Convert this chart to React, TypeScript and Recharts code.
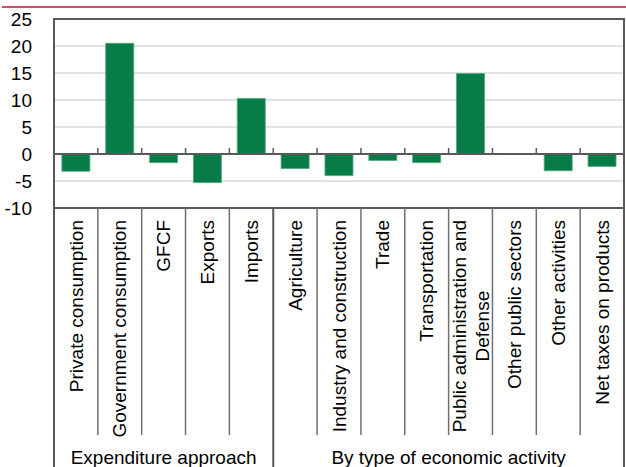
import React from "react";
import {
  BarChart,
  Bar,
  XAxis,
  YAxis,
  CartesianGrid,
  ReferenceLine,
  ReferenceArea,
} from "recharts";

const categories = [
  "Private consumption",
  "Government consumption",
  "GFCF",
  "Exports",
  "Imports",
  "Agriculture",
  "Industry and construction",
  "Trade",
  "Transportation",
  "Public administration and|Defense",
  "Other public sectors",
  "Other activities",
  "Net taxes on products",
];
const values = [-3.2, 20.5, -1.6, -5.3, 10.3, -2.7, -4.0, -1.2, -1.6, 14.9, -0.1, -3.1, -2.3];
const groups = [
  "Expenditure approach",
  "Expenditure approach",
  "Expenditure approach",
  "Expenditure approach",
  "Expenditure approach",
  "By type of economic activity",
  "By type of economic activity",
  "By type of economic activity",
  "By type of economic activity",
  "By type of economic activity",
  "By type of economic activity",
  "By type of economic activity",
  "By type of economic activity",
];
const yTicks = [-10, -5, 0, 5, 10, 15, 20, 25];

const data = categories.map((name, i) => ({ name, value: values[i], group: groups[i] }));

const FONT = "Liberation Sans, Arial, sans-serif";
const LABEL_SIZE = 19;
const AXIS_COLOR = "#595959";
const SEP_COLOR = "#707070";

let ctx: CanvasRenderingContext2D | null = null;
function textWidth(s: string) {
  if (!ctx) ctx = document.createElement("canvas").getContext("2d");
  if (!ctx) return s.length * LABEL_SIZE * 0.5;
  ctx.font = `${LABEL_SIZE}px ${FONT}`;
  return ctx.measureText(s).width;
}

function CategoryTick(props: any) {
  const { x, y, payload, index } = props;
  const half = payload.offset ?? 0;
  const lines: string[] = String(payload.value).split("|");
  const top = y - 8;
  const sepEnd = top + 227;
  const bottom = top + 260;
  const g = groups[index];
  const firstOfGroup = index === 0 || groups[index - 1] !== g;
  const groupCount = groups.filter((v) => v === g).length;
  const longest = Math.max(...lines.map(textWidth));
  const mid = top + 12 + longest / 2;
  const lineGap = 23;
  return (
    <g>
      <line
        x1={x - half}
        x2={x - half}
        y1={top}
        y2={firstOfGroup ? bottom : sepEnd}
        stroke={firstOfGroup ? AXIS_COLOR : SEP_COLOR}
        strokeWidth={firstOfGroup ? 2 : 1.5}
      />
      {index === groups.length - 1 && (
        <line x1={x + half} x2={x + half} y1={top} y2={bottom} stroke={AXIS_COLOR} strokeWidth={2} />
      )}
      {lines.map((ln, k) => {
        const lx = x + (k - (lines.length - 1) / 2) * lineGap;
        return (
          <text
            key={k}
            x={lx}
            y={mid}
            transform={`rotate(-90 ${lx} ${mid})`}
            textAnchor="middle"
            dy="0.35em"
            fontSize={LABEL_SIZE}
            fontFamily={FONT}
            fill="#000"
          >
            {ln}
          </text>
        );
      })}
      {firstOfGroup && (
        <text
          x={x - half + groupCount * half}
          y={bottom - 4}
          textAnchor="middle"
          fontSize={LABEL_SIZE}
          fontFamily={FONT}
          fill="#000"
        >
          {g}
        </text>
      )}
    </g>
  );
}

function YTick(props: any) {
  const { x, y, payload } = props;
  return (
    <text
      x={x}
      y={y}
      dy="0.36em"
      textAnchor="end"
      fontSize={19}
      fontFamily={FONT}
      fill="#000"
    >
      {payload.value}
    </text>
  );
}

function ZeroLine(props: any) {
  const { x1, x2, y1 } = props;
  const n = categories.length;
  const step = (x2 - x1) / n;
  return (
    <g>
      <line x1={x1} x2={x2} y1={y1} y2={y1} stroke={AXIS_COLOR} strokeWidth={2} />
      {categories.slice(1).map((_, i) => (
        <line
          key={i}
          x1={x1 + step * (i + 1)}
          x2={x1 + step * (i + 1)}
          y1={y1 - 6}
          y2={y1}
          stroke={AXIS_COLOR}
          strokeWidth={1.5}
        />
      ))}
    </g>
  );
}

export default function App() {
  return (
    <div style={{ position: "absolute", left: 0, top: 0, width: 626, height: 467, background: "#fff" }}>
      <div style={{ position: "absolute", left: 2, top: 6, width: 624, height: 2, background: "#D84A62" }} />
      <BarChart
        width={626}
        height={467}
        data={data}
        margin={{ top: 19, right: 2, left: 0, bottom: 0 }}
        barCategoryGap="18%"
      >
        <CartesianGrid horizontal vertical={false} stroke="#D9D9D9" strokeWidth={1.5} />
        <XAxis
          dataKey="name"
          height={259}
          interval={0}
          axisLine={false}
          tickLine={false}
          tick={<CategoryTick />}
        />
        <YAxis
          width={54}
          domain={[-10, 25]}
          ticks={yTicks}
          tickLine={false}
          axisLine={false}
          tickMargin={16}
          tick={<YTick />}
        />
        <ReferenceArea y1={-10} y2={25} fill="none" stroke={AXIS_COLOR} strokeWidth={2} />
        <Bar dataKey="value" fill="#077C47" stroke="#4FA77C" strokeWidth={0.8} isAnimationActive={false} />
        <ReferenceLine y={0} shape={<ZeroLine />} />
      </BarChart>
    </div>
  );
}
